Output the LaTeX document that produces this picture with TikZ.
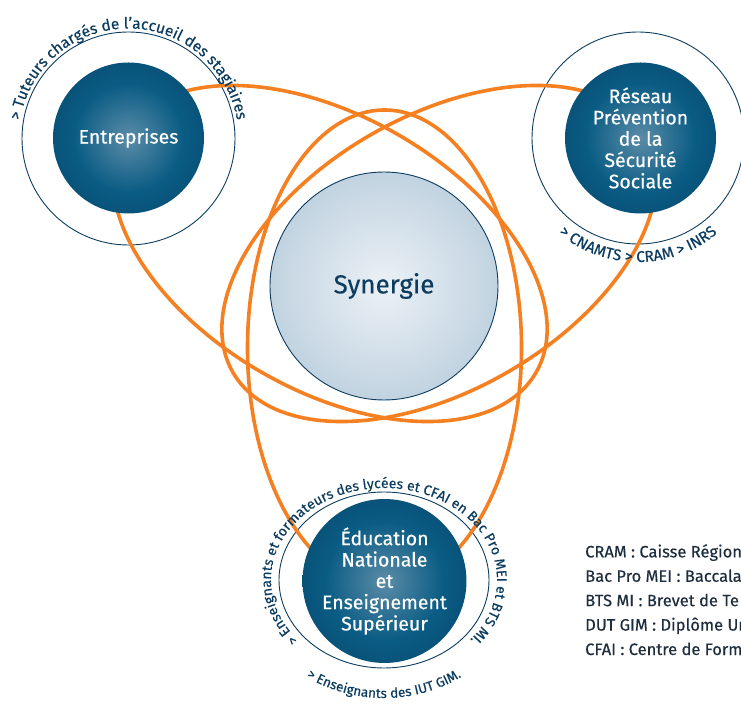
\documentclass[tikz,border=0pt]{standalone}
\usepackage{fontspec}
\setmainfont{Fira Sans}[FakeBold=0.4]
\usetikzlibrary{decorations.text}
\definecolor{navy}{RGB}{12,60,95}
\definecolor{legc}{RGB}{30,45,62}
\definecolor{orng}{RGB}{244,128,33}
\definecolor{dcA}{RGB}{92,140,168}
\definecolor{dcB}{RGB}{10,92,132}
\definecolor{dcC}{RGB}{4,50,86}
\definecolor{lcA}{RGB}{236,241,246}
\definecolor{lcB}{RGB}{150,181,203}
\pgfdeclareradialshading{darkball}{\pgfpoint{0bp}{0bp}}{color(0bp)=(dcA); color(18bp)=(dcB); color(50bp)=(dcC)}
\pgfdeclareradialshading{lightball}{\pgfpoint{0bp}{0bp}}{color(0bp)=(lcA); color(50bp)=(lcB)}
\tikzset{
  orb/.style={circle, minimum size=151pt, inner sep=0pt, shading=darkball, text=white,
    font=\fontsize{19.5}{21.3}\selectfont, align=center},
  synorb/.style={circle, minimum size=228pt, inner sep=0pt, shading=lightball, draw=navy,
    line width=0.9pt, text=navy, font=\fontsize{26}{28}\selectfont},
  ring/.style={draw=navy, line width=0.9pt},
  loopline/.style={draw=orng, line width=3.6pt},
  legend/.style={anchor=base west, align=left, text=legc, font=\fontsize{16.5}{24.4}\selectfont, inner sep=0pt}
}
\begin{document}
\begin{tikzpicture}[x=1pt,y=1pt]
\useasboundingbox (0,0) rectangle (741,707);
\clip (0,0) rectangle (741,707);
% centres
\coordinate (entC) at (128.5,569);
\coordinate (resC) at (640.5,569);
\coordinate (eduC) at (384.5,126);
\coordinate (synC) at (384,421);
\coordinate (entO) at (128.5,568.5);
\coordinate (resO) at (638,569);
\coordinate (eduO) at (384,127);
\coordinate (eC) at (384.5,359);
\coordinate (aC) at (329.9,453.5);
\coordinate (bC) at (439.1,453.5);
% outer rings
\draw[ring] (entO) circle[radius=106.5];
\draw[ring] (resO) circle[radius=106];
\draw[ring] (eduO) ellipse[x radius=105, y radius=88];
% orange loops
\draw[loopline] (eC) ellipse[x radius=137, y radius=238];
\draw[loopline, rotate around={-30:(aC)}] (aC) ellipse[x radius=238, y radius=137];
\draw[loopline, rotate around={30:(bC)}] (bC) ellipse[x radius=238, y radius=137];
% main nodes
\node[orb] (ent) at (entC) {Entreprises};
\node[orb] (res) at (resC) {Réseau\\Prévention\\de la\\Sécurité\\Sociale};
\node[orb] (edu) at (eduC) {Éducation\\Nationale\\et\\Enseignement\\Supérieur};
\node[synorb] (syn) at (synC) {Synergie};
% curved labels
\path[decorate, decoration={text along path, text align=center,
  text={|\fontsize{15.5}{15.5}\selectfont\color{navy}|> Tuteurs chargés de l'accueil des stagiaires}}]
  (entO) ++(190:110) arc[start angle=190, end angle=-10, radius=110];
\path[decorate, decoration={text along path, text align=center,
  text={|\fontsize{15.5}{15.5}\selectfont\color{navy}|> CNAMTS > CRAM > INRS}}]
  (resO) ++(210:124) arc[start angle=210, end angle=330, radius=124];
\path[decorate, decoration={text along path, text align=center,
  text={|\fontsize{14}{14}\selectfont\color{navy}|> Enseignants et formateurs des lycées et CFAI en Bac Pro MEI et BTS MI.}}]
  (eduO) ++(245:113 and 92) arc[start angle=245, end angle=-65, x radius=113, y radius=92];
\path[decorate, decoration={text along path, text align=center,
  text={|\fontsize{13.5}{13.5}\selectfont\color{navy}|> Enseignants des IUT GIM.}}]
  (eduO) ++(210:135 and 118) arc[start angle=210, end angle=330, x radius=135, y radius=118];
% legend
\node[legend] (leg) at (585,52) {CRAM : Caisse Région\\Bac Pro MEI : Baccala\\BTS MI : Brevet de Te\\DUT GIM : Diplôme Un\\CFAI : Centre de Form};
\end{tikzpicture}
\end{document}
